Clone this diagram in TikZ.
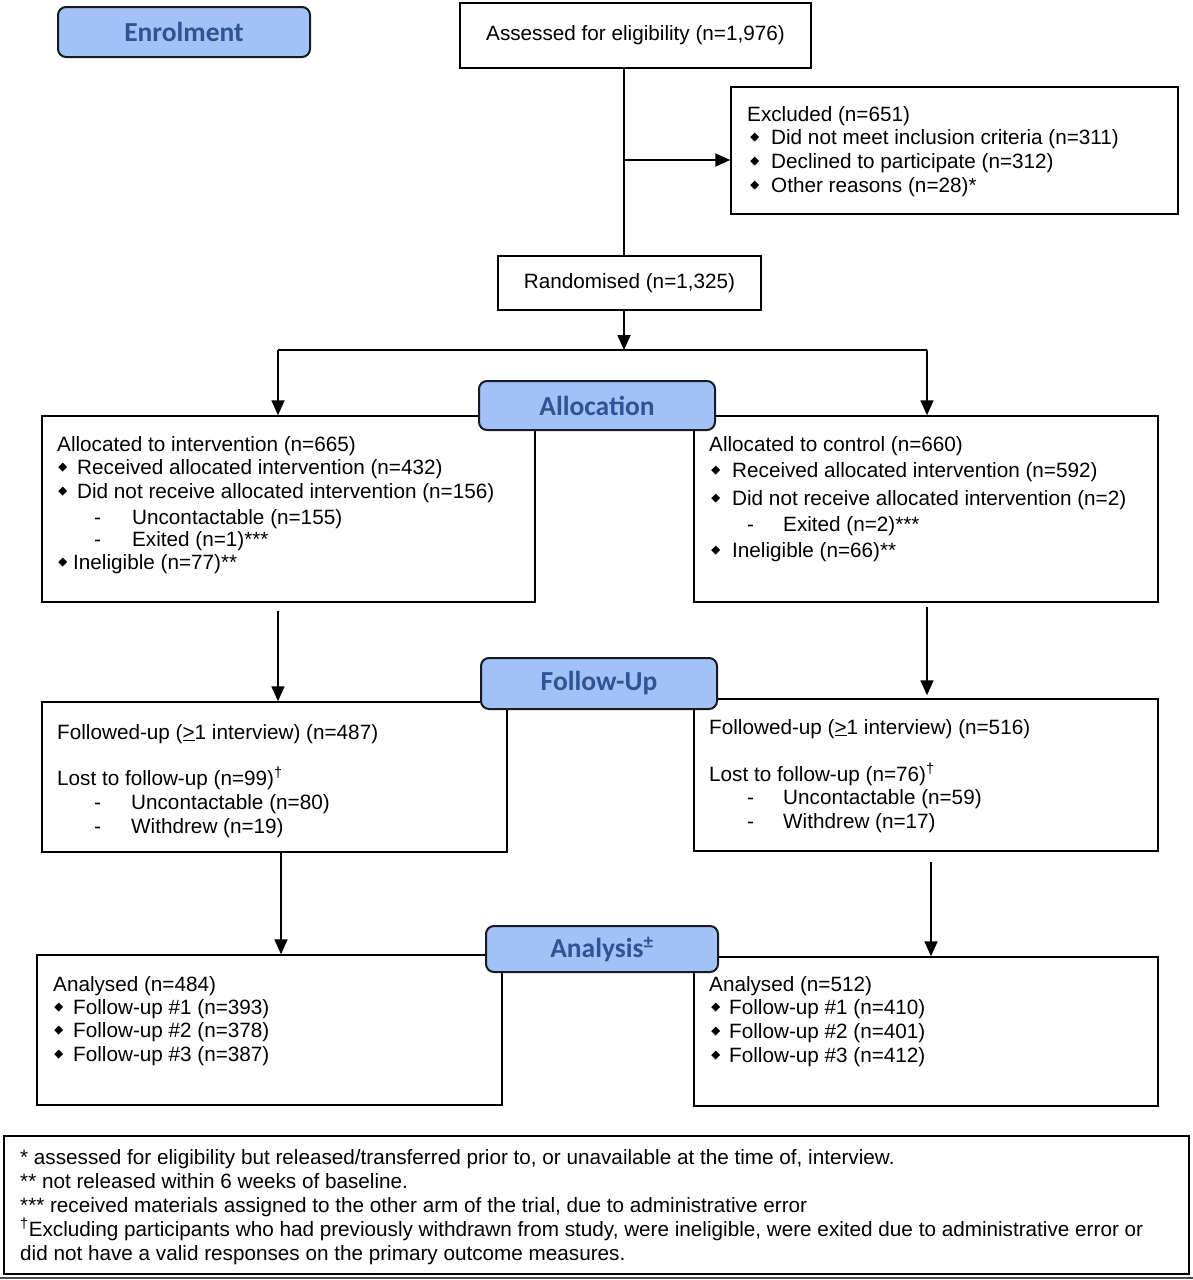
\documentclass[tikz,border=0pt]{standalone}
\usepackage{fontspec}
\usepackage{graphicx}
\setmainfont{Liberation Sans}
\newfontfamily\carlito{Carlito}
\usetikzlibrary{arrows.meta,calc}
\definecolor{labfill}{RGB}{162,193,246}
\definecolor{labtext}{RGB}{46,84,150}
\definecolor{labdraw}{RGB}{25,25,35}
\newcommand\myfont{\fontsize{20.7pt}{24pt}\selectfont}
\newcommand\bul{\raisebox{2.5pt}{\rotatebox{45}{\rule{6.3pt}{6.3pt}}}}
\newcommand\bitem[1]{\makebox[#1][l]{\bul}}
\newcommand\dsh[1]{\makebox[#1][l]{-}}
\begin{document}
\begin{tikzpicture}[x=1pt,y=-1pt,
  box/.style={draw, line width=1.5pt, inner sep=0pt, font=\myfont},
  lab/.style={draw=labdraw, line width=2pt, rounded corners=8pt, fill=labfill, text=labtext, font=\carlito\bfseries\fontsize{27.5pt}{30pt}\selectfont, inner sep=0pt},
  txt/.style={anchor=base west, inner sep=0pt, font=\myfont},
  arr/.style={line width=1.8pt, -{Triangle[length=15pt,width=13pt]}},
  ln/.style={line width=1.8pt}]
\useasboundingbox (0,0) rectangle (1193,1280);
\fill[white] (0,0) rectangle (1193,1280);

% boxes
\node[box, minimum width=351pt, minimum height=65pt] (assess) at (635.5,35.5) {Assessed for eligibility (n=1,976)};
\node[box, minimum width=447pt, minimum height=127pt] (excl) at (954.5,150.5) {};
\node[box, minimum width=263pt, minimum height=54pt] (rand) at (629.5,283) {Randomised (n=1,325)};
\node[box, minimum width=493pt, minimum height=186pt] (allocL) at (288.5,509) {};
\node[box, minimum width=464pt, minimum height=186pt] (allocR) at (926,509) {};
\node[box, minimum width=465pt, minimum height=150pt] (followL) at (274.5,777) {};
\node[box, minimum width=464pt, minimum height=152pt] (followR) at (926,775) {};
\node[box, minimum width=465pt, minimum height=150pt] (anaL) at (269.5,1030) {};
\node[box, minimum width=464pt, minimum height=149pt] (anaR) at (926,1031.5) {};
\node[box, minimum width=1185pt, minimum height=138pt] (foot) at (596.5,1205) {};
\draw[line width=1.2pt, black!70] (0,1278) -- (1193,1278);

% excluded text
\node[txt] (ex0) at (747,121) {Excluded (n=651)};
\node[txt] (ex1) at (750,144) {\bitem{21pt}Did not meet inclusion criteria (n=311)};
\node[txt] (ex2) at (750,168) {\bitem{21pt}Declined to participate (n=312)};
\node[txt] (ex3) at (750,192) {\bitem{21pt}Other reasons (n=28)*};

% allocation left
\node[txt] (al0) at (57,451) {Allocated to intervention (n=665)};
\node[txt] (al1) at (58,474) {\bitem{19pt}Received allocated intervention (n=432)};
\node[txt] (al2) at (58,498) {\bitem{19pt}Did not receive allocated intervention (n=156)};
\node[txt] (al3) at (94,524) {\dsh{38pt}Uncontactable (n=155)};
\node[txt] (al4) at (94,546) {\dsh{38pt}Exited (n=1)***};
\node[txt] (al5) at (58,569) {\bitem{15pt}Ineligible (n=77)**};

% allocation right
\node[txt] (ar0) at (709,451) {Allocated to control (n=660)};
\node[txt] (ar1) at (711,477) {\bitem{21pt}Received allocated intervention (n=592)};
\node[txt] (ar2) at (711,505) {\bitem{21pt}Did not receive allocated intervention (n=2)};
\node[txt] (ar3) at (747,531) {\dsh{36pt}Exited (n=2)***};
\node[txt] (ar4) at (711,557) {\bitem{21pt}Ineligible (n=66)**};

% follow-up left
\node[txt] (fl0) at (57,739) {Followed-up (\underline{>}1 interview) (n=487)};
\node[txt] (fl1) at (57,785) {Lost to follow-up (n=99)\textsuperscript{†}};
\node[txt] (fl2) at (94,809) {\dsh{37pt}Uncontactable (n=80)};
\node[txt] (fl3) at (94,833) {\dsh{37pt}Withdrew (n=19)};

% follow-up right
\node[txt] (fr0) at (709,734) {Followed-up (\underline{>}1 interview) (n=516)};
\node[txt] (fr1) at (709,781) {Lost to follow-up (n=76)\textsuperscript{†}};
\node[txt] (fr2) at (747,804) {\dsh{36pt}Uncontactable (n=59)};
\node[txt] (fr3) at (747,828) {\dsh{36pt}Withdrew (n=17)};

% analysis left
\node[txt] (nl0) at (53,991) {Analysed (n=484)};
\node[txt] (nl1) at (54,1014) {\bitem{19pt}Follow-up \#1 (n=393)};
\node[txt] (nl2) at (54,1037) {\bitem{19pt}Follow-up \#2 (n=378)};
\node[txt] (nl3) at (54,1061) {\bitem{19pt}Follow-up \#3 (n=387)};

% analysis right
\node[txt] (nr0) at (709,991) {Analysed (n=512)};
\node[txt] (nr1) at (711,1014) {\bitem{18pt}Follow-up \#1 (n=410)};
\node[txt] (nr2) at (711,1038) {\bitem{18pt}Follow-up \#2 (n=401)};
\node[txt] (nr3) at (711,1062) {\bitem{18pt}Follow-up \#3 (n=412)};

% footnotes
\node[txt] (f1) at (20,1164) {* assessed for eligibility but released/transferred prior to, or unavailable at the time of, interview.};
\node[txt] (f2) at (20,1188) {** not released within 6 weeks of baseline.};
\node[txt] (f3) at (20,1212) {*** received materials assigned to the other arm of the trial, due to administrative error};
\node[txt] (f4) at (20,1236) {\textsuperscript{†}Excluding participants who had previously withdrawn from study, were ineligible, were exited due to administrative error or};
\node[txt] (f5) at (20,1260) {did not have a valid responses on the primary outcome measures.};

% connectors
\coordinate (spine) at (624,0);
\coordinate (exy) at (0,160);
\coordinate (split) at (0,350);
\coordinate (lcol) at (278,0);
\coordinate (rcol) at (927,0);
\coordinate (lcol2) at (281,0);
\coordinate (rcol2) at (931,0);
\draw[ln] (assess.south -| spine) -- (rand.north -| spine);
\draw[arr] (spine |- exy) -- (excl.west |- exy);
\draw[arr] (rand.south -| spine) -- (spine |- split);
\draw[ln] (lcol |- split) -- (rcol |- split);
\draw[arr] (lcol |- split) -- (lcol |- allocL.north);
\draw[arr] (rcol |- split) -- (rcol |- allocR.north);
\draw[arr] ($(allocL.south -| lcol)+(0,8)$) -- (lcol |- followL.north);
\draw[arr] ($(allocR.south -| rcol)+(0,4)$) -- ($(followR.north -| rcol)+(0,-3)$);
\draw[arr] (followL.south -| lcol2) -- (lcol2 |- anaL.north);
\draw[arr] ($(followR.south -| rcol2)+(0,10)$) -- (rcol2 |- anaR.north);

% stage labels
\node[lab, minimum width=252pt, minimum height=50pt] (enrol) at (184,32) {Enrolment};
\node[lab, minimum width=236pt, minimum height=49pt] (allocLab) at (597,405.5) {Allocation};
\node[lab, minimum width=236pt, minimum height=51pt] (followLab) at (599,683.5) {Follow-Up};
\node[lab, minimum width=232pt, minimum height=46pt] (anaLab) at (602,949) {Analysis\textsuperscript{±}};
\end{tikzpicture}
\end{document}
